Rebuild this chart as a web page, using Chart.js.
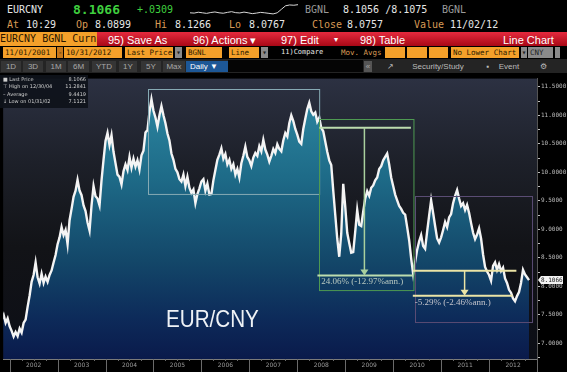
<!DOCTYPE html>
<html>
<head>
<meta charset="utf-8">
<script src="https://cdn.jsdelivr.net/npm/chart.js@4.4.0/dist/chart.umd.min.js"></script>
<style>
body { margin:0; background:#000; width:567px; height:372px; overflow:hidden; position:relative; font-family:"DejaVu Sans Mono", monospace; }
.t { position:absolute; white-space:nowrap; line-height:1; }
.w { color:#e6e6e6; }
.o { color:#d99a55; }
.g { color:#9a9a9a; }
.fld { position:absolute; top:47px; height:11px; background:#f4a02a; color:#2a1a00; font-size:7.5px; line-height:11px; padding-left:2px; box-sizing:border-box; white-space:nowrap; overflow:hidden; }
.gry { position:absolute; top:47px; height:11px; background:#8a8a8a; color:#222; font-size:7.5px; line-height:11px; box-sizing:border-box; text-align:center; }
.btn { position:absolute; top:61px; height:11px; background:#353535; color:#a8a8a8; font:8px "Liberation Sans", sans-serif; line-height:11px; text-align:center; }
.red { position:absolute; top:34px; color:#fff; font:11px "Liberation Sans", sans-serif; white-space:nowrap; }
#legend { position:absolute; left:0; top:75px; width:88px; height:33px; background:rgba(14,18,26,0.92); font:5px "DejaVu Sans", sans-serif; color:#cfcfcf; z-index:3; }
#legend div { position:absolute; left:3px; width:83px; height:7px; line-height:7px; }
#legend span { position:absolute; right:0; }
#pair { position:absolute; left:166px; top:305px; font:24px "Liberation Sans", sans-serif; color:#eef2f6; z-index:3; transform:scaleX(0.86); transform-origin:left top; }
</style>
</head>
<body>

<!-- ===== HEADER ===== -->
<span class="t w" style="left:7px;top:5px;font-size:10px">EURCNY</span>
<span class="t" style="left:73px;top:3px;font-size:13px;font-weight:bold;color:#3fcf3f">8.1066</span>
<span class="t" style="left:137px;top:5px;font-size:10px;color:#3fcf3f">+.0309</span>
<canvas id="spark" width="108" height="14" style="position:absolute;left:190px;top:3px"></canvas>
<span class="t g" style="left:305px;top:5px;font-size:10px">BGNL</span>
<span class="t w" style="left:343px;top:5px;font-size:10px">8.1056 /8.1075</span>
<span class="t g" style="left:442px;top:5px;font-size:10px">BGNL</span>

<span class="t o" style="left:7px;top:20px;font-size:10px">At</span>
<span class="t w" style="left:26px;top:20px;font-size:10px">10:29</span>
<span class="t o" style="left:76px;top:20px;font-size:10px">Op</span>
<span class="t w" style="left:95px;top:20px;font-size:10px">8.0899</span>
<span class="t o" style="left:155px;top:20px;font-size:10px">Hi</span>
<span class="t w" style="left:175px;top:20px;font-size:10px">8.1266</span>
<span class="t o" style="left:229px;top:20px;font-size:10px">Lo</span>
<span class="t w" style="left:249px;top:20px;font-size:10px">8.0767</span>
<span class="t o" style="left:312px;top:20px;font-size:10px">Close</span>
<span class="t w" style="left:347px;top:20px;font-size:10px">8.0757</span>
<span class="t o" style="left:414px;top:20px;font-size:10px">Value</span>
<span class="t w" style="left:450px;top:20px;font-size:10px">11/02/12</span>

<div style="position:absolute;left:0;top:32px;width:97px;height:14px;background:#f4a02a;color:#2a1600;font-size:10px;line-height:14px;white-space:nowrap;overflow:hidden">EURCNY BGNL Curn</div>
<div style="position:absolute;left:97px;top:32px;width:470px;height:14px;background:linear-gradient(#e52a3e,#a80816)"></div>
<span class="red" style="left:108px">95) Save As</span>
<span class="red" style="left:193px">96) Actions &#9662;</span>
<span class="red" style="left:281px">97) Edit</span>
<span class="red" style="left:334px;top:35px;font-size:8px">&#9662;</span>
<span class="red" style="left:360px">98) Table</span>
<span class="red" style="left:503px">Line Chart</span>

<div class="fld" style="left:3px;width:53px">11/01/2001</div>
<div class="fld" style="left:57px;width:6px;background:#c8781a;padding-left:1px">-</div>
<div class="fld" style="left:64px;width:58px">10/31/2012</div>
<div class="fld" style="left:125px;width:48px">Last Price</div>
<div class="gry" style="left:175px;width:7px">&#9662;</div>
<div class="fld" style="left:186px;width:36px">BGNL</div>
<div class="fld" style="left:229px;width:30px">Line</div>
<div class="gry" style="left:261px;width:7px">&#9662;</div>
<span class="t w" style="left:281px;top:49px;font-size:7px">11)Compare</span>
<span class="t o" style="left:341px;top:49px;font-size:7.5px">Mov. Avgs</span>
<div class="fld" style="left:385px;width:20px"></div>
<div class="fld" style="left:407px;width:20px"></div>
<div class="fld" style="left:429px;width:19px"></div>
<div class="fld" style="left:451px;width:68px">No Lower Chart</div>
<div class="gry" style="left:521px;width:6px">&#9662;</div>
<div class="gry" style="left:528px;width:25px;text-align:left;padding-left:2px">CNY</div>
<div class="gry" style="left:555px;width:5px"></div>

<div style="position:absolute;left:0;top:59px;width:567px;height:14px;background:#242424"></div>
<div class="btn" style="left:1px;width:20px">1D</div>
<div class="btn" style="left:23px;width:20px">3D</div>
<div class="btn" style="left:46px;width:20px">1M</div>
<div class="btn" style="left:68px;width:21px">6M</div>
<div class="btn" style="left:92px;width:24px">YTD</div>
<div class="btn" style="left:119px;width:18px">1Y</div>
<div class="btn" style="left:141px;width:20px">5Y</div>
<div class="btn" style="left:163px;width:22px">Max</div>
<div class="btn" style="left:186px;width:42px;background:#1d5796;color:#fff;text-align:left;padding-left:4px;box-sizing:border-box">Daily &#9660;</div>
<div style="position:absolute;left:228px;top:60px;width:135px;height:12px;background:#050505"></div>
<div class="btn" style="left:364px;width:8px;background:#555">&laquo;</div>
<div class="btn" style="left:384px;width:12px;background:none;color:#bbb">&#x2197;</div>
<div class="btn" style="left:404px;width:68px;background:none;color:#bbb">Security/Study</div>
<div class="btn" style="left:484px;width:8px;background:none;color:#bbb">&#9642;</div>
<div class="btn" style="left:494px;width:30px;background:none;color:#bbb">Event</div>
<div class="btn" style="left:537px;width:12px;background:none;color:#bbb">&#9881;</div>

<!-- ===== CHART ===== -->
<canvas id="chart" width="567" height="298" style="position:absolute;left:0;top:74px"></canvas>

<div id="legend">
  <div style="top:1px">&#9632; Last Price<span>8.1066</span></div>
  <div style="top:8px">&#8868; High on 12/30/04<span>11.2841</span></div>
  <div style="top:16px">&#8211; Average<span>9.4419</span></div>
  <div style="top:23px">&#8595; Low on 01/31/02<span>7.1121</span></div>
</div>
<div id="pair">EUR/CNY</div>

<script>
// ===== DATA =====
// EUR/CNY last price, two readings a month, starting 11/01/2001
const firstObs = 2001 + 10 / 12;
const obsPerYear = 24;

const prices2001 = [7.42, 7.50, 7.36, 7.44];
const prices2002 = [7.30, 7.22, 7.12, 7.20, 7.13, 7.26, 7.19, 7.36, 7.42, 7.64, 7.84, 8.08,
                    8.20, 8.42, 8.16, 8.05, 8.22, 8.06, 8.17, 8.08, 8.20, 8.28, 8.42, 8.55];
const prices2003 = [8.74, 8.86, 9.04, 8.90, 8.99, 8.74, 9.16, 9.36, 9.57, 9.68, 9.87, 9.68,
                    9.60, 9.42, 9.32, 9.12, 8.98, 9.42, 9.76, 9.58, 9.54, 9.42, 9.86, 10.22];
const prices2004 = [10.55, 10.69, 10.48, 10.65, 10.36, 10.16, 9.96, 9.92, 9.79, 10.02, 10.14, 10.04,
                    10.27, 10.08, 10.24, 10.10, 10.21, 10.05, 10.30, 10.38, 10.70, 10.74, 11.06, 11.28];
const prices2005 = [11.08, 10.96, 10.80, 11.00, 11.16, 11.00, 10.86, 10.68, 10.56, 10.33, 10.22, 10.06,
                    10.00, 9.88, 9.84, 9.96, 9.76, 9.92, 9.73, 9.64, 9.70, 9.46, 9.62, 9.72];
const prices2006 = [9.84, 9.88, 9.68, 9.80, 9.61, 9.62, 9.86, 10.04, 10.22, 10.31, 10.42, 10.24,
                    10.32, 10.14, 10.22, 10.06, 10.14, 9.96, 10.06, 9.91, 10.16, 10.29, 10.45, 10.27];
const prices2007 = [10.21, 10.11, 10.26, 10.34, 10.29, 10.46, 10.37, 10.57, 10.40, 10.31, 10.19, 10.29,
                    10.41, 10.34, 10.49, 10.41, 10.37, 10.56, 10.69, 10.63, 10.86, 11.00, 10.90, 10.76];
const prices2008 = [10.66, 10.54, 10.50, 10.76, 10.94, 11.11, 11.22, 11.07, 11.01, 11.05, 10.89, 10.96,
                    10.78, 10.72, 10.54, 10.36, 10.21, 10.13, 9.68, 9.26, 8.84, 8.52, 8.92, 9.80];
const prices2009 = [9.40, 8.94, 8.76, 8.59, 8.60, 8.96, 9.34, 9.08, 9.06, 9.31, 9.54, 9.67,
                    9.59, 9.73, 9.77, 9.86, 9.91, 10.06, 10.11, 10.21, 10.27, 10.33, 10.14, 9.91];
const prices2010 = [9.76, 9.61, 9.51, 9.41, 9.36, 9.29, 9.26, 9.04, 8.81, 8.49, 8.22, 8.43,
                    8.64, 8.79, 8.90, 8.71, 8.66, 8.96, 9.24, 9.51, 9.29, 9.06, 8.84, 8.77];
const prices2011 = [8.86, 8.99, 9.13, 9.04, 9.21, 9.27, 9.46, 9.59, 9.69, 9.54, 9.41, 9.46,
                    9.34, 9.43, 9.29, 9.11, 8.94, 8.83, 8.91, 9.02, 8.84, 8.56, 8.34, 8.26];
const prices2012 = [8.20, 8.10, 8.36, 8.42, 8.29, 8.39, 8.27, 8.33, 8.14, 8.06, 7.94, 7.89,
                    7.79, 7.74, 7.83, 7.90, 8.06, 8.29, 8.21, 8.16, 8.11];

const prices = [].concat(prices2001, prices2002, prices2003, prices2004, prices2005, prices2006,
                         prices2007, prices2008, prices2009, prices2010, prices2011, prices2012);
const lastPrice = 8.1066;

// axis ticks
const yearTicks = [2002, 2003, 2004, 2005, 2006, 2007, 2008, 2009, 2010, 2011, 2012, 2013];
const yLabelTicks = [7.0, 7.5, 8.0, 8.5, 9.0, 9.5, 10.0, 10.5, 11.0, 11.5];
const yMinorTicks = [6.75, 7.25, 7.75, 8.25, 8.75, 9.25, 9.75, 10.25, 10.75, 11.25];

// intraday sparkline in the header
const sparkValues = [0.30, 0.28, 0.34, 0.30, 0.26, 0.32, 0.36, 0.30, 0.27, 0.33, 0.38, 0.31,
                     0.29, 0.35, 0.30, 0.24, 0.28, 0.33, 0.30, 0.26, 0.22, 0.30, 0.55, 0.80, 0.86, 0.84, 0.88];

// ===== ANNOTATIONS (data units) =====
const highBox = { x0: 2004.89, x1: 2008.46, y0: 9.63, y1: 11.47 };
const drawA = { x0: 2008.46, x1: 2010.43, y0: 7.93, y1: 10.93,
                fromX0: 2008.46, fromX1: 2010.37, from: 10.78,
                toX0: 2008.42, toX1: 2010.41, to: 8.19, at: 2009.40,
                label: '24.06% (-12.97%ann.)', labelX: 2008.50, labelY: 8.08 };
const drawB = { x0: 2010.45, x1: 2012.89, y0: 7.37, y1: 9.58,
                fromX0: 2010.41, fromX1: 2012.57, from: 8.275,
                toX0: 2010.41, toX1: 2012.49, to: 7.837, at: 2011.49,
                label: '-5.29% (-2.46%ann.)', labelX: 2010.45, labelY: 7.71 };

// ===== PLUGINS =====
const backdrop = {
    id: 'backdrop',
    beforeDraw(chart) {
        const { ctx, chartArea: a } = chart;
        ctx.save();
        ctx.fillStyle = '#000';
        ctx.fillRect(0, 0, chart.width, chart.height);
        const g = ctx.createLinearGradient(0, a.top, 0, a.bottom);
        g.addColorStop(0, '#2c3142');
        g.addColorStop(0.3, '#1d2029');
        g.addColorStop(0.6, '#121317');
        g.addColorStop(1, '#0c0e16');
        ctx.fillStyle = g;
        ctx.fillRect(a.left, a.top, a.right - a.left, a.bottom - a.top);
        ctx.restore();
    }
};

function hLine(ctx, x, y, x0, x1, v, color, w) {
    ctx.strokeStyle = color;
    ctx.lineWidth = w;
    ctx.beginPath();
    ctx.moveTo(x.getPixelForValue(x0), y.getPixelForValue(v));
    ctx.lineTo(x.getPixelForValue(x1), y.getPixelForValue(v));
    ctx.stroke();
}

function rectBox(ctx, x, y, b, color) {
    const l = x.getPixelForValue(b.x0), r = x.getPixelForValue(b.x1);
    const t = y.getPixelForValue(b.y1), btm = y.getPixelForValue(b.y0);
    ctx.strokeStyle = color;
    ctx.lineWidth = 1;
    ctx.strokeRect(Math.round(l) + 0.5, Math.round(t) + 0.5, r - l, btm - t);
}

function arrowDown(ctx, x, y, at, v0, v1, color) {
    const px = x.getPixelForValue(at);
    const p0 = y.getPixelForValue(v0), p1 = y.getPixelForValue(v1);
    ctx.strokeStyle = color;
    ctx.lineWidth = 1.5;
    ctx.beginPath();
    ctx.moveTo(px, p0);
    ctx.lineTo(px, p1 - 5);
    ctx.stroke();
    ctx.fillStyle = color;
    ctx.beginPath();
    ctx.moveTo(px - 4, p1 - 6);
    ctx.lineTo(px + 4, p1 - 6);
    ctx.lineTo(px, p1);
    ctx.closePath();
    ctx.fill();
}

const annotate = {
    id: 'annotate',
    afterDatasetsDraw(chart) {
        const { ctx, scales: { x, y } } = chart;
        ctx.save();
        rectBox(ctx, x, y, highBox, '#86aab4');

        // drawdown 2008-2010
        rectBox(ctx, x, y, drawA, '#4e9a52');
        hLine(ctx, x, y, drawA.fromX0, drawA.fromX1, drawA.from, '#bcdcae', 2);
        hLine(ctx, x, y, drawA.toX0, drawA.toX1, drawA.to, '#bcdcae', 2);
        arrowDown(ctx, x, y, drawA.at, drawA.from, drawA.to, '#a9d09e');

        // drawdown 2010-2012
        rectBox(ctx, x, y, drawB, '#5a4c74');
        hLine(ctx, x, y, drawB.fromX0, drawB.fromX1, drawB.from, '#ebe4a6', 2);
        hLine(ctx, x, y, drawB.toX0, drawB.toX1, drawB.to, '#ebe4a6', 2);
        arrowDown(ctx, x, y, drawB.at, drawB.from, drawB.to, '#ebe4a6');

        ctx.font = '9px "Liberation Serif", serif';
        ctx.textBaseline = 'middle';
        ctx.fillStyle = '#b8c8c0';
        ctx.fillText(drawA.label, x.getPixelForValue(drawA.labelX), y.getPixelForValue(drawA.labelY));
        ctx.fillStyle = '#c4c4cc';
        ctx.fillText(drawB.label, x.getPixelForValue(drawB.labelX), y.getPixelForValue(drawB.labelY));
        ctx.restore();
    },
    afterDraw(chart) {
        const { ctx, chartArea: a, scales: { x, y } } = chart;
        ctx.save();
        // year separators and quarter marks under the axis
        ctx.strokeStyle = '#6a6a6a';
        ctx.lineWidth = 1;
        yearTicks.forEach(yr => {
            const px = Math.round(x.getPixelForValue(yr)) + 0.5;
            ctx.beginPath();
            ctx.moveTo(px, a.bottom);
            ctx.lineTo(px, chart.height);
            ctx.stroke();
            [0.25, 0.5, 0.75].forEach(q => {
                const qx = Math.round(x.getPixelForValue(yr - 1 + q)) + 0.5;
                ctx.beginPath();
                ctx.moveTo(qx, a.bottom);
                ctx.lineTo(qx, a.bottom + 2);
                ctx.stroke();
            });
        });
        // last price tag
        const py = Math.round(y.getPixelForValue(lastPrice));
        ctx.fillStyle = '#f2f2f2';
        ctx.beginPath();
        ctx.moveTo(a.right + 1, py);
        ctx.lineTo(a.right + 4, py - 4);
        ctx.lineTo(a.right + 26, py - 4);
        ctx.lineTo(a.right + 26, py + 4);
        ctx.lineTo(a.right + 4, py + 4);
        ctx.closePath();
        ctx.fill();
        ctx.fillStyle = '#111';
        ctx.font = '6px "DejaVu Sans Mono", monospace';
        ctx.textBaseline = 'middle';
        ctx.fillText(lastPrice.toFixed(4), a.right + 4, py + 0.5);
        ctx.restore();
    }
};

// ===== MAIN CHART =====
const points = prices.map((v, i) => ({ x: firstObs + i / obsPerYear, y: v }));

new Chart(document.getElementById('chart'), {
    type: 'line',
    data: {
        datasets: [{
            data: points,
            borderColor: '#f4f4f4',
            borderWidth: 2.4,
            pointRadius: 0,
            tension: 0,
            fill: 'start',
            backgroundColor: function(context) {
                const a = context.chart.chartArea;
                if (!a) return '#1a5a7a';
                const g = context.chart.ctx.createLinearGradient(0, a.top, 0, a.bottom);
                g.addColorStop(0, '#2f8ca6');
                g.addColorStop(0.35, '#1e6b88');
                g.addColorStop(0.65, '#134769');
                g.addColorStop(0.85, '#0d2b5a');
                g.addColorStop(1, '#0a1a4b');
                return g;
            }
        }]
    },
    options: {
        responsive: false,
        animation: false,
        devicePixelRatio: 1,
        layout: { padding: { top: 2, left: 0, right: 0, bottom: 0 } },
        plugins: { legend: { display: false }, tooltip: { enabled: false } },
        scales: {
            x: {
                type: 'linear',
                min: 2001.865,
                max: 2013.0,
                afterBuildTicks: axis => { axis.ticks = yearTicks.map(v => ({ value: v })); },
                afterFit: axis => { axis.height = 13; },
                ticks: {
                    color: '#9a9a9a',
                    font: { size: 6, family: 'DejaVu Sans' },
                    labelOffset: 24,
                    padding: 2,
                    maxRotation: 0,
                    autoSkip: false,
                    callback: v => v < 2013 ? String(v) : ''
                },
                grid: { drawOnChartArea: false, tickLength: 1, color: '#6a6a6a' },
                border: { color: '#7a7a7a' }
            },
            y: {
                position: 'right',
                min: 6.727,
                max: 11.644,
                afterBuildTicks: axis => {
                    axis.ticks = yLabelTicks.concat(yMinorTicks).sort((a, b) => a - b).map(v => ({ value: v }));
                },
                afterFit: axis => { axis.width = 30; },
                ticks: {
                    color: '#bdbdbd',
                    font: { size: 6, family: 'DejaVu Sans Mono' },
                    padding: 1,
                    autoSkip: false,
                    callback: v => yLabelTicks.includes(v) ? v.toFixed(4) : ''
                },
                grid: { drawOnChartArea: false, tickLength: 3, color: '#bdbdbd' },
                border: { color: '#555' }
            }
        }
    },
    plugins: [backdrop, annotate]
});

// ===== SPARKLINE =====
new Chart(document.getElementById('spark'), {
    type: 'line',
    data: {
        labels: sparkValues.map((v, i) => i),
        datasets: [{ data: sparkValues, borderColor: '#d8d8d8', borderWidth: 1, pointRadius: 0, tension: 0 }]
    },
    options: {
        responsive: false,
        animation: false,
        devicePixelRatio: 1,
        plugins: { legend: { display: false }, tooltip: { enabled: false } },
        scales: { x: { display: false }, y: { display: false, min: 0, max: 1 } }
    }
});
</script>
</body>
</html>
